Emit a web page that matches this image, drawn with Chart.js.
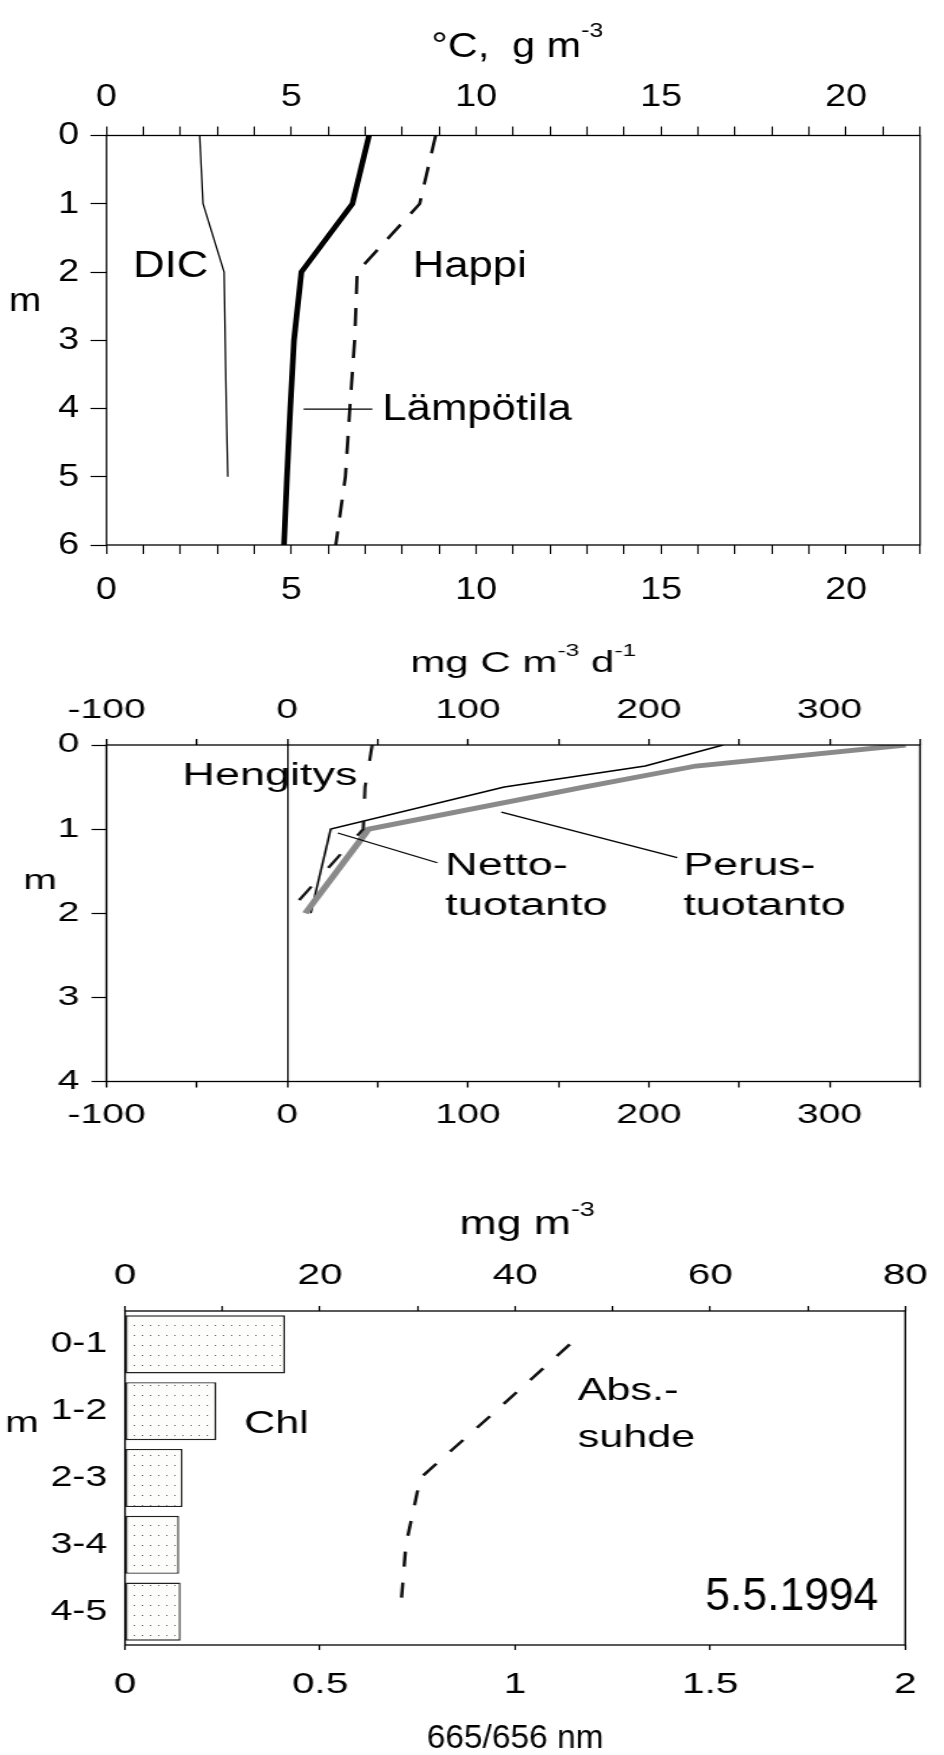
<!DOCTYPE html>
<html>
<head>
<meta charset="utf-8">
<title>Syvyysprofiilit 5.5.1994</title>
<script src="https://cdn.jsdelivr.net/npm/chart.js@4.4.1/dist/chart.umd.min.js"></script>
<style>
  html, body { margin: 0; padding: 0; background: #fff; }
  #page { position: relative; width: 944px; height: 1755px; overflow: hidden; }
  #page canvas { position: absolute; left: 0; }
</style>
</head>
<body>
<div id="page">
  <canvas id="profile-chart"></canvas>
  <canvas id="production-chart"></canvas>
  <canvas id="chl-chart"></canvas>
</div>
<script>
// Lämpötila, happi ja DIC syvyyden mukaan (°C, g m-3)
const depthLevels = [0, 1, 2, 3, 4, 5, 6];
const lampotila = [7.1, 6.65, 5.27, 5.07, 4.97, 4.88, 4.8];
const happi = [8.9, 8.47, 6.78, 6.71, 6.58, 6.46, 6.2];
const dicDepths = [0, 1, 2, 3, 4, 5];
const dic = [2.52, 2.61, 3.18, 3.21, 3.24, 3.28];

// Perustuotanto, nettotuotanto ja hengitys (mg C m-3 d-1)
const prodDepths = [0, 0.25, 0.5, 1, 2];
const perustuotanto = [342, 226, 164, 45, 10];
const nettotuotanto = [241, 198, 120, 24, 13];
const hengitys = [47, 45, 43, 42, 0];

// Klorofylli kerroksittain (mg m-3) ja absorbanssisuhde 665/656 nm
const layers = ['0-1', '1-2', '2-3', '3-4', '4-5'];
const chl = [16.4, 9.35, 5.9, 5.55, 5.7];
const absSuhde = [1.14, 0.95, 0.757, 0.72, 0.706];

const PAGE_W = 944;
const FONT = "'Liberation Sans', Arial, Helvetica, sans-serif";
Chart.defaults.font.family = FONT;
Chart.defaults.color = '#000';

// the panels are drawn narrow and stretched sideways by css
function setupCanvas(id, top, height, stretch) {
  const c = document.getElementById(id);
  c.width = Math.round(PAGE_W / stretch);
  c.height = height;
  c.style.top = top + 'px';
  c.style.width = PAGE_W + 'px';
  c.style.height = height + 'px';
  return c;
}

function points(xs, ys) {
  return xs.map((x, i) => ({ x, y: ys[i] }));
}

const framePlugin = {
  id: 'frame',
  afterDatasetsDraw(chart) {
    const { ctx, chartArea: a } = chart;
    ctx.save();
    ctx.strokeStyle = '#000';
    ctx.lineWidth = 1.3;
    ctx.strokeRect(a.left, a.top, a.right - a.left, a.bottom - a.top);
    ctx.restore();
  }
};

function resolvePos(chart, id, v, horizontal) {
  if (id === 'px') return v;
  if (id === 'mid') {
    const a = chart.chartArea;
    return (horizontal ? (a.left + a.right) / 2 : (a.top + a.bottom) / 2) + v;
  }
  return chart.scales[id].getPixelForValue(v);
}

function drawLabel(ctx, parts, x, y, size, align, squeeze) {
  const k = squeeze || 1;
  const supSize = Math.round(size * 0.6);
  const fontOf = p => (typeof p === 'string' ? size : supSize) + 'px ' + FONT;
  const textOf = p => (typeof p === 'string' ? p : p.sup);
  let total = 0;
  parts.forEach(p => { ctx.font = fontOf(p); total += ctx.measureText(textOf(p)).width; });
  const startX = align === 'center' ? x - total * k / 2 : x;
  ctx.save();
  ctx.translate(startX, y);
  ctx.scale(k, 1);
  ctx.textBaseline = 'alphabetic';
  ctx.textAlign = 'left';
  let dx = 0;
  parts.forEach(p => {
    ctx.font = fontOf(p);
    ctx.fillText(textOf(p), dx, typeof p === 'string' ? 0 : -size * 0.55);
    dx += ctx.measureText(textOf(p)).width;
  });
  ctx.restore();
}

// text labels and leader lines placed through the chart scales
function notes(texts, lines) {
  return {
    id: 'notes',
    afterDraw(chart) {
      const ctx = chart.ctx;
      ctx.save();
      ctx.fillStyle = '#000';
      ctx.strokeStyle = '#000';
      (lines || []).forEach(l => {
        ctx.lineWidth = l.width || 1.3;
        ctx.beginPath();
        ctx.moveTo(resolvePos(chart, l.x, l.from[0], true), resolvePos(chart, l.y, l.from[1], false));
        ctx.lineTo(resolvePos(chart, l.x, l.to[0], true), resolvePos(chart, l.y, l.to[1], false));
        ctx.stroke();
      });
      texts.forEach(t => {
        const x = resolvePos(chart, t.at[0], t.at[1], true);
        const y = resolvePos(chart, t.at[2], t.at[3], false);
        drawLabel(ctx, t.parts, x, y, t.size, t.align, t.squeeze);
      });
      ctx.restore();
    }
  };
}

function tickMarks(len) {
  return { drawOnChartArea: false, tickLength: len, tickColor: '#000', tickWidth: 1.2 };
}

// ---- lämpötila / happi / DIC ----
const s1 = PAGE_W / 800;
const c1 = setupCanvas('profile-chart', 0, 640, s1);
new Chart(c1, {
  type: 'line',
  data: {
    datasets: [
      { label: 'DIC', data: points(dic, dicDepths), borderColor: '#000', borderWidth: 1.3 },
      { label: 'Lämpötila', data: points(lampotila, depthLevels), borderColor: '#000', borderWidth: 4.8 },
      { label: 'Happi', data: points(happi, depthLevels), borderColor: '#111', borderWidth: 2.8, borderDash: [18, 14] }
    ]
  },
  options: {
    responsive: false,
    animation: false,
    devicePixelRatio: 1,
    indexAxis: 'y',
    elements: { point: { radius: 0 }, line: { tension: 0, fill: false } },
    layout: { padding: { left: 0, top: 0, bottom: 0, right: 800 - 920 / s1 } },
    plugins: { legend: { display: false }, tooltip: { enabled: false } },
    scales: {
      x: {
        type: 'linear', position: 'top', min: 0, max: 22,
        afterFit: s => { s.height = 135.5; },
        ticks: { stepSize: 1, autoSkip: false, maxRotation: 0, padding: 10, font: { size: 32 },
                 callback: v => (v % 5 === 0 ? v : '') },
        grid: tickMarks(9), border: { display: false }
      },
      x2: {
        type: 'linear', position: 'bottom', min: 0, max: 22,
        afterFit: s => { s.height = 95; },
        ticks: { stepSize: 1, autoSkip: false, maxRotation: 0, padding: 17, font: { size: 32 },
                 callback: v => (v % 5 === 0 ? v : '') },
        grid: tickMarks(9), border: { display: false }
      },
      y: {
        type: 'linear', reverse: true, min: 0, max: 6,
        afterFit: s => { s.width = 106.5 / s1; },
        ticks: { stepSize: 1, padding: 11.5 / s1, font: { size: 32 } },
        grid: tickMarks(16 / s1), border: { display: false }
      }
    }
  },
  plugins: [framePlugin, notes([
    { parts: ['°C,  g m', { sup: '-3' }], at: ['mid', 4 / s1, 'px', 56.7], size: 35, align: 'center' },
    { parts: ['m'], at: ['px', 25 / s1, 'y', 2.57], size: 33, align: 'center' },
    { parts: ['DIC'], at: ['x', 0.72, 'y', 2.07], size: 37 },
    { parts: ['Happi'], at: ['x', 8.28, 'y', 2.07], size: 37 },
    { parts: ['Lämpötila'], at: ['x', 7.46, 'y', 4.17], size: 37 }
  ], [
    { x: 'x', y: 'y', from: [5.33, 4.01], to: [7.19, 4.01] }
  ])]
});

// ---- perustuotanto / nettotuotanto / hengitys ----
const s2 = PAGE_W / 651;
const c2 = setupCanvas('production-chart', 640, 510, s2);
new Chart(c2, {
  type: 'line',
  data: {
    datasets: [
      { label: 'Hengitys', data: points(hengitys, prodDepths), borderColor: '#111', borderWidth: 2.2, borderDash: [16, 22] },
      { label: 'Perustuotanto', data: points(perustuotanto, prodDepths), borderColor: '#8a8a8a', borderWidth: 4.8 },
      { label: 'Nettotuotanto', data: points(nettotuotanto, prodDepths), borderColor: '#000', borderWidth: 1.5 }
    ]
  },
  options: {
    responsive: false,
    animation: false,
    devicePixelRatio: 1,
    indexAxis: 'y',
    elements: { point: { radius: 0 }, line: { tension: 0, fill: false } },
    layout: { padding: { left: 0, top: 0, bottom: 0, right: 651 - 920 / s2 } },
    plugins: { legend: { display: false }, tooltip: { enabled: false } },
    scales: {
      x: {
        type: 'linear', position: 'top', min: -100, max: 350,
        afterFit: s => { s.height = 105; },
        ticks: { stepSize: 50, autoSkip: false, maxRotation: 0, padding: 12, font: { size: 27 },
                 callback: v => (v % 100 === 0 ? v : '') },
        grid: {
          drawOnChartArea: true, tickLength: 6, tickColor: '#000', tickWidth: 1.2, lineWidth: 1.1,
          color: c => (c.tick && c.tick.value === 0 ? '#000' : 'rgba(0,0,0,0)')
        },
        border: { display: false }
      },
      x2: {
        type: 'linear', position: 'bottom', min: -100, max: 350,
        afterFit: s => { s.height = 68.5; },
        ticks: { stepSize: 50, autoSkip: false, maxRotation: 0, padding: 12, font: { size: 27 },
                 callback: v => (v % 100 === 0 ? v : '') },
        grid: tickMarks(6), border: { display: false }
      },
      y: {
        type: 'linear', reverse: true, min: 0, max: 4,
        afterFit: s => { s.width = 106.5 / s2; },
        ticks: { stepSize: 1, padding: 12 / s2, font: { size: 27 } },
        grid: tickMarks(15 / s2), border: { display: false }
      }
    }
  },
  plugins: [framePlugin, notes([
    { parts: ['mg C m', { sup: '-3' }, ' d', { sup: '-1' }], at: ['mid', 10 / s2, 'px', 32], size: 29, align: 'center' },
    { parts: ['m'], at: ['px', 40 / s2, 'y', 1.71], size: 28, align: 'center' },
    { parts: ['Hengitys'], at: ['x', -58, 'y', 0.476], size: 31 },
    { parts: ['Netto-'], at: ['x', 87.4, 'y', 1.546], size: 31 },
    { parts: ['tuotanto'], at: ['x', 87.4, 'y', 2.02], size: 31 },
    { parts: ['Perus-'], at: ['x', 219, 'y', 1.546], size: 31 },
    { parts: ['tuotanto'], at: ['x', 219, 'y', 2.02], size: 31 }
  ], [
    { x: 'x', y: 'y', from: [27.9, 1.046], to: [83, 1.40] },
    { x: 'x', y: 'y', from: [118.4, 0.797], to: [215.7, 1.34] }
  ])]
});

// ---- klorofylli ja absorbanssisuhde ----
const s3 = PAGE_W / 699;
const c3 = setupCanvas('chl-chart', 1150, 605, s3);

function dotPattern(ctx) {
  const tile = document.createElement('canvas');
  tile.width = 6;
  tile.height = 10;
  const t = tile.getContext('2d');
  t.fillStyle = '#fdfdfb';
  t.fillRect(0, 0, 6, 10);
  t.fillStyle = '#6a6a6a';
  t.fillRect(3, 5, 1, 1);
  return ctx.createPattern(tile, 'repeat');
}

new Chart(c3, {
  type: 'bar',
  data: {
    labels: layers,
    datasets: [
      {
        type: 'line', label: 'Abs.-suhde', indexAxis: 'y', xAxisID: 'x2', yAxisID: 'y',
        data: layers.map((l, i) => ({ x: absSuhde[i], y: l })),
        borderColor: '#111', borderWidth: 2.5, borderDash: [15, 16], pointRadius: 0, tension: 0, fill: false
      },
      {
        type: 'bar', label: 'Chl', xAxisID: 'x', yAxisID: 'y',
        data: chl,
        backgroundColor: dotPattern(c3.getContext('2d')),
        borderColor: '#222', borderWidth: 1.4, borderSkipped: false,
        barPercentage: 0.87, categoryPercentage: 1.0
      }
    ]
  },
  options: {
    responsive: false,
    animation: false,
    devicePixelRatio: 1,
    indexAxis: 'y',
    layout: { padding: { left: 0, top: 0, bottom: 0, right: 699 - 921 / s3 } },
    plugins: { legend: { display: false }, tooltip: { enabled: false } },
    scales: {
      x: {
        type: 'linear', position: 'top', min: 0, max: 80,
        afterFit: s => { s.height = 161; },
        ticks: { stepSize: 10, autoSkip: false, maxRotation: 0, padding: 12, font: { size: 30 },
                 callback: v => (v % 20 === 0 ? v : '') },
        grid: tickMarks(5), border: { display: false }
      },
      x2: {
        type: 'linear', position: 'bottom', min: 0, max: 2,
        afterFit: s => { s.height = 110; },
        ticks: { stepSize: 0.5, autoSkip: false, maxRotation: 0, padding: 17, font: { size: 30 },
                 callback: v => v },
        grid: tickMarks(5), border: { display: false }
      },
      y: {
        type: 'category',
        afterFit: s => { s.width = 125 / s3; },
        ticks: { padding: 7 / s3, font: { size: 29 } },
        grid: { display: false }, border: { display: false }
      }
    }
  },
  plugins: [framePlugin, notes([
    { parts: ['mg m', { sup: '-3' }], at: ['mid', 12 / s3, 'px', 84], size: 33, align: 'center' },
    { parts: ['665/656 nm'], at: ['mid', 0, 'px', 598], size: 33, align: 'center', squeeze: 0.75 },
    { parts: ['m'], at: ['px', 22 / s3, 'y', 1.31], size: 30, align: 'center' },
    { parts: ['Chl'], at: ['x', 12.2, 'y', 1.326], size: 32 },
    { parts: ['Abs.-'], at: ['x', 46.4, 'y', 0.832], size: 32 },
    { parts: ['suhde'], at: ['x', 46.4, 'y', 1.53], size: 32 },
    { parts: ['5.5.1994'], at: ['x', 59.5, 'y', 3.976], size: 47, squeeze: 0.7 }
  ])]
});
</script>
</body>
</html>
